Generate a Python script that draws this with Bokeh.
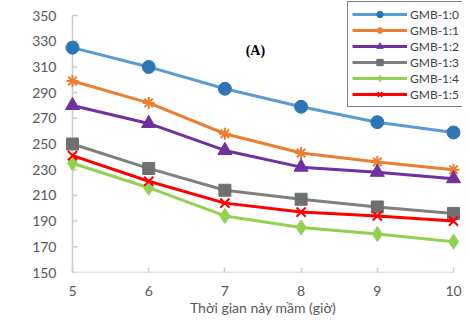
from bokeh.plotting import figure
from bokeh.models import Range1d, FixedTicker, Label, Legend, LegendItem
from bokeh.embed import file_html
from bokeh.resources import INLINE

# ---- data ----
hours = [5, 6, 7, 8, 9, 10]
gmb_1_0 = [325, 310, 293, 279, 267, 259]
gmb_1_1 = [299, 282, 258, 243, 236, 230]
gmb_1_2 = [280, 266, 245, 232, 228, 223]
gmb_1_3 = [250, 231, 214, 207, 201, 196]
gmb_1_4 = [235, 216, 194, 185, 180, 174]
gmb_1_5 = [241, 221, 204, 197, 194, 190]
series_names = ["GMB-1:0", "GMB-1:1", "GMB-1:2", "GMB-1:3", "GMB-1:4", "GMB-1:5"]
x_ticks = [5, 6, 7, 8, 9, 10]
y_ticks = [150, 170, 190, 210, 230, 250, 270, 290, 310, 330, 350]
x_title = "Thời gian nảy mầm (giờ)"
y_title = "Phytate (mg/100 g, d.b.)"
panel_tag = "(A)"

FONT = "Lato"
TXT = "#595959"
AX = "#cccccc"

p = figure(width=470, height=324, output_backend="svg", toolbar_location=None,
           x_range=Range1d(4.882, 10.118), y_range=Range1d(150, 361.7),
           min_border_left=63, min_border_right=8, min_border_top=0, min_border_bottom=52)
p.outline_line_color = None
p.background_fill_color = "white"
p.border_fill_color = "white"
p.xgrid.visible = False
p.ygrid.visible = False

# x axis (ticks/labels; its line drawn between first and last hour)
p.xaxis.ticker = FixedTicker(ticks=x_ticks)
p.xaxis.axis_line_color = None
p.xaxis.major_tick_line_color = AX
p.xaxis.major_tick_line_width = 1.5
p.xaxis.major_tick_out = 0
p.xaxis.major_tick_in = 5
p.xaxis.minor_tick_line_color = None
p.xaxis.major_label_text_font = FONT
p.xaxis.major_label_text_font_size = "14px"
p.xaxis.major_label_text_color = TXT
p.xaxis.major_label_standoff = 13
p.xaxis.axis_label = x_title
p.xaxis.axis_label_text_font = FONT
p.xaxis.axis_label_text_font_size = "14px"
p.xaxis.axis_label_text_font_style = "normal"
p.xaxis.axis_label_text_color = TXT
p.xaxis.axis_label_standoff = 0

# y axis (labels only; line and ticks drawn at x = first hour)
p.yaxis.ticker = FixedTicker(ticks=y_ticks)
p.yaxis.axis_line_color = None
p.yaxis.major_tick_line_color = None
p.yaxis.minor_tick_line_color = None
p.yaxis.major_tick_out = 0
p.yaxis.major_tick_in = 0
p.yaxis.major_label_text_font = FONT
p.yaxis.major_label_text_font_size = "14px"
p.yaxis.major_label_text_color = TXT
p.yaxis.major_label_standoff = 7

# axis lines
p.segment(x0=[hours[0]], x1=[hours[0]], y0=[y_ticks[0]], y1=[y_ticks[-1]],
          line_color=AX, line_width=1.5)
p.segment(x0=[hours[0]], x1=[hours[-1] + 0.01], y0=[y_ticks[0]], y1=[y_ticks[0]],
          line_color=AX, line_width=1.5)
p.segment(x0=[hours[0]] * len(y_ticks), x1=[hours[0] + 0.065] * len(y_ticks),
          y0=y_ticks, y1=y_ticks, line_color=AX, line_width=1.5)

p.add_layout(Label(x=4.36, y=226.7, text=y_title, angle=1.5708, text_align="center",
                   text_baseline="middle", text_font=FONT, text_font_size="14.5px",
                   text_color=TXT))
p.add_layout(Label(x=7.40, y=322.8, text=panel_tag, text_align="center",
                   text_baseline="middle", text_font="Liberation Serif",
                   text_font_size="14px", text_font_style="bold", text_color="#000000"))

items = []
specs = [
    (gmb_1_0, "#5B9BD5", "circle", "#2E75B6", 13),
    (gmb_1_1, "#ED7D31", "asterisk", "#ED7D31", 12),
    (gmb_1_2, "#7030A0", "triangle", "#7030A0", 14),
    (gmb_1_3, "#7F7F7F", "square", "#707070", 12),
    (gmb_1_4, "#92D050", "diamond", "#92D050", 15),
    (gmb_1_5, "#FF0000", "x", "#FF0000", 13),
]
for name, (vals, lc, mk, mc, sz) in zip(series_names, specs):
    lr = p.line(hours, vals, line_color=lc, line_width=3)
    lw = 2 if mk in ("x", "asterisk") else 1
    mr = p.scatter(hours, vals, marker=mk, size=sz, fill_color=mc, line_color=mc, line_width=lw)
    items.append(LegendItem(label=name, renderers=[lr, mr]))

legend = Legend(items=items, location=(284, 165))
legend.border_line_color = "black"
legend.border_line_width = 1
legend.background_fill_color = "white"
legend.background_fill_alpha = 1
legend.label_text_font = FONT
legend.label_text_font_size = "12px"
legend.label_text_color = "#404040"
legend.glyph_width = 55
legend.glyph_height = 16
legend.spacing = 0
legend.padding = 4
legend.margin = 0
legend.label_standoff = 3
legend.label_height = 16
p.add_layout(legend)

open("out.html", "w").write(file_html(p, INLINE))
